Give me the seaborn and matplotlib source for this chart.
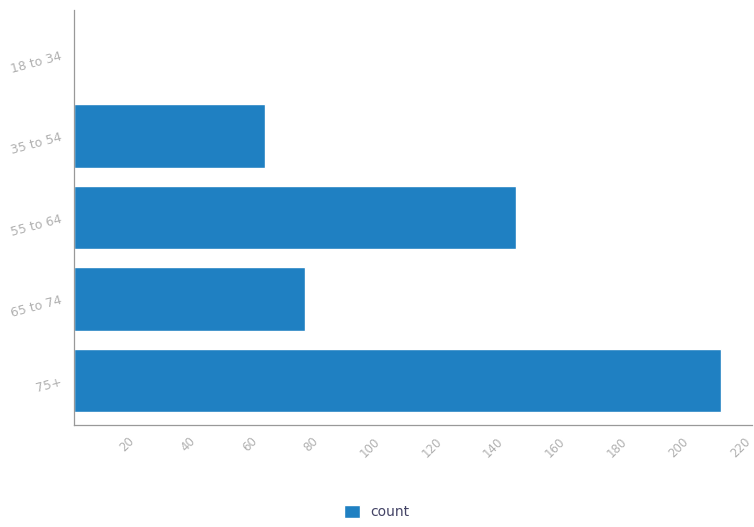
import pandas as pd
import matplotlib.pyplot as plt
import matplotlib.transforms as mtransforms
import seaborn as sns

# age groups and counts
age_groups = ['18 to 34', '35 to 54', '55 to 64', '65 to 74', '75+']
counts = [0, 62, 143.5, 75, 210]
x_ticks = [20, 40, 60, 80, 100, 120, 140, 160, 180, 200, 220]

df = pd.DataFrame({'age': age_groups, 'count': counts})

sns.set_style('white')
plt.rcParams['font.family'] = ['DejaVu Sans']

fig = plt.figure(figsize=(7.54, 5.27), dpi=100)
ax = fig.add_axes([0.098, 0.1935, 0.899, 0.7875])

sns.barplot(data=df, x='count', y='age', orient='h', color='#1f80c2',
            saturation=1, width=0.78, label='count', ax=ax)

ax.set_xlim(0, 220)
ax.set_ylim(4.55, -0.55)
ax.set_xticks(x_ticks)
ax.set_xticklabels([str(t) for t in x_ticks], rotation=45, ha='right',
                   rotation_mode='anchor', color='#b0b0b0', fontsize=8.5)
ax.set_yticks(range(len(age_groups)))
ax.set_yticklabels(age_groups, rotation=15, color='#b0b0b0', fontsize=9)
ax.tick_params(axis='both', length=4, width=0.8, color='#888888', direction='out')
ax.tick_params(axis='x', pad=3)
ax.set_xlabel('')
ax.set_ylabel('')

# nudge the rotated x labels a bit left so the last one stays inside
shift = mtransforms.ScaledTranslation(-6 / 72, 0, fig.dpi_scale_trans)
for lbl in ax.get_xticklabels():
    lbl.set_transform(lbl.get_transform() + shift)

sns.despine(ax=ax)
for s in ['left', 'bottom']:
    ax.spines[s].set_color('#999999')
    ax.spines[s].set_linewidth(0.9)

if ax.get_legend():
    ax.get_legend().remove()
handles, labels = ax.get_legend_handles_labels()
fig.legend(handles, labels, loc='center', bbox_to_anchor=(0.5, 0.028),
           frameon=False, fontsize=10, handlelength=1.1, handleheight=1.1,
           labelcolor='#444466')

plt.savefig('out.png', dpi=100)
